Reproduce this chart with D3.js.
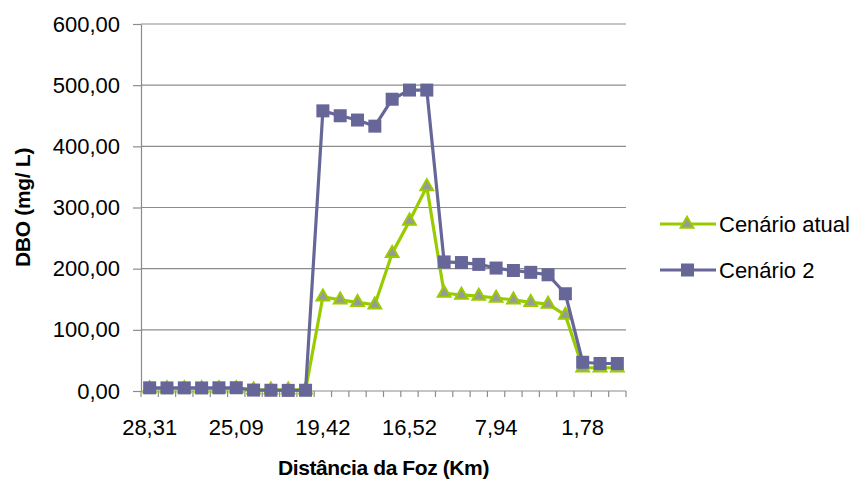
<!DOCTYPE html>
<html>
<head>
<meta charset="utf-8">
<script src="https://cdn.jsdelivr.net/npm/d3@7"></script>
<style>
  body { margin: 0; background: #fff; }
  svg { font-family: "Liberation Sans", Arial, sans-serif; }
</style>
</head>
<body>
<div id="chart"></div>
<script>
// Station index along the river (28 points), only every 5th is labelled
const stations = d3.range(28);
const tickLabels = ["28,31", "25,09", "19,42", "16,52", "7,94", "1,78"];
const tickStations = [0, 5, 10, 15, 20, 25];

const cenarioAtual = [4, 4, 4, 4, 4, 4, 2, 2, 2, 2,
  154, 149, 145, 141, 225, 278, 334,
  160, 157, 155, 152, 149, 145, 142, 124,
  38, 38, 38];
const cenario2 = [5.2, 5.0, 5.1, 5.0, 5.2, 5.3, 1.5, 1.2, 1.0, 1.2,
  458, 450, 443, 433, 477, 492, 492,
  211, 210, 207, 201, 197, 194, 190, 159,
  47, 45, 45];

const yTicks = [0, 100, 200, 300, 400, 500, 600];

const margin = {top: 24, right: 232, bottom: 92, left: 141},
    width = 858 - margin.left - margin.right,
    height = 483 - margin.top - margin.bottom;

const svg = d3.select("#chart")
  .append("svg")
    .attr("width", 858)
    .attr("height", 483)
  .append("g")
    .attr("transform", `translate(${margin.left},${margin.top})`);

const x = d3.scaleBand()
  .domain(stations)
  .range([0, width]);

const y = d3.scaleLinear()
  .domain([0, 600])
  .range([height, 0]);

const fmt = v => d3.format(".2f")(v).replace(".", ",");

// Gridlines
svg.append("g")
  .selectAll("line")
  .data(yTicks.filter(d => d > 0))
  .join("line")
    .attr("x1", 0).attr("x2", width)
    .attr("y1", d => y(d)).attr("y2", d => y(d))
    .attr("stroke", "#8c8c8c")
    .attr("stroke-width", 1.2);

// Y axis
const yAxis = svg.append("g")
  .call(d3.axisLeft(y).tickValues(yTicks).tickSize(8).tickSizeOuter(0).tickFormat(fmt));
yAxis.select(".domain").attr("stroke", "#8c8c8c").attr("stroke-width", 1.2);
yAxis.selectAll(".tick line").attr("stroke", "#8c8c8c").attr("stroke-width", 1.2);
yAxis.selectAll("text")
  .attr("x", -21)
  .style("font-size", "22px")
  .style("font-family", "Liberation Sans, Arial, sans-serif")
  .attr("fill", "#000");

// X axis: ticks at category boundaries
const xg = svg.append("g").attr("transform", `translate(0,${height})`);
xg.append("line")
  .attr("x1", 0).attr("x2", width)
  .attr("stroke", "#8c8c8c").attr("stroke-width", 1.2);
xg.selectAll("line.tk")
  .data(stations.concat([stations.length]))
  .join("line")
    .attr("class", "tk")
    .attr("x1", d => d < stations.length ? x(d) : width)
    .attr("x2", d => d < stations.length ? x(d) : width)
    .attr("y1", 0).attr("y2", 6)
    .attr("stroke", "#8c8c8c").attr("stroke-width", 1.2);
xg.selectAll("text")
  .data(tickStations)
  .join("text")
    .attr("x", d => x(d) + x.bandwidth() / 2)
    .attr("y", 44)
    .attr("text-anchor", "middle")
    .style("font-size", "22px")
    .text((d, i) => tickLabels[i]);

// Lines
const cx = i => x(i) + x.bandwidth() / 2;
const line = d3.line().x((d, i) => cx(i)).y(d => y(d));

svg.append("path")
  .datum(cenarioAtual)
  .attr("fill", "none")
  .attr("stroke", "#99cc00")
  .attr("stroke-width", 3.2)
  .attr("stroke-linejoin", "round")
  .attr("d", line);

const tri = d3.symbol().type(d3.symbolTriangle).size(70);
svg.append("g")
  .selectAll("path")
  .data(cenarioAtual)
  .join("path")
    .attr("d", tri)
    .attr("transform", (d, i) => `translate(${cx(i)},${y(d)})`)
    .attr("fill", "#999999")
    .attr("stroke", "#99cc00")
    .attr("stroke-width", 2);

svg.append("path")
  .datum(cenario2)
  .attr("fill", "none")
  .attr("stroke", "#666699")
  .attr("stroke-width", 3.2)
  .attr("stroke-linejoin", "round")
  .attr("d", line);

svg.append("g")
  .selectAll("rect")
  .data(cenario2)
  .join("rect")
    .attr("x", (d, i) => cx(i) - 6.5)
    .attr("y", d => y(d) - 6.5)
    .attr("width", 13)
    .attr("height", 13)
    .attr("fill", "#666699");

// Axis titles
svg.append("text")
  .attr("x", width / 2)
  .attr("y", height + 84)
  .attr("text-anchor", "middle")
  .style("font-size", "21px")
  .style("font-weight", "bold")
  .style("letter-spacing", "-0.4px")
  .text("Distância da Foz (Km)");

svg.append("text")
  .attr("transform", `translate(${-111},${height / 2}) rotate(-90)`)
  .attr("text-anchor", "middle")
  .style("font-size", "21px")
  .style("font-weight", "bold")
  .style("letter-spacing", "-0.3px")
  .text("DBO (mg/ L)");

// Legend
const legend = svg.append("g")
  .attr("transform", `translate(${660 - margin.left},${224 - margin.top})`);

legend.append("line")
  .attr("x1", 0).attr("x2", 56)
  .attr("stroke", "#99cc00").attr("stroke-width", 3.2);
legend.append("path")
  .attr("d", tri)
  .attr("transform", "translate(27,0)")
  .attr("fill", "#999999").attr("stroke", "#99cc00").attr("stroke-width", 2);
legend.append("text")
  .attr("x", 59).attr("y", 8)
  .style("font-size", "22px")
  .text("Cenário atual");

legend.append("line")
  .attr("x1", 0).attr("x2", 56).attr("y1", 46).attr("y2", 46)
  .attr("stroke", "#666699").attr("stroke-width", 3.2);
legend.append("rect")
  .attr("x", 21).attr("y", 39.5).attr("width", 13).attr("height", 13)
  .attr("fill", "#666699");
legend.append("text")
  .attr("x", 59).attr("y", 54)
  .style("font-size", "22px")
  .text("Cenário 2");
</script>
</body>
</html>
